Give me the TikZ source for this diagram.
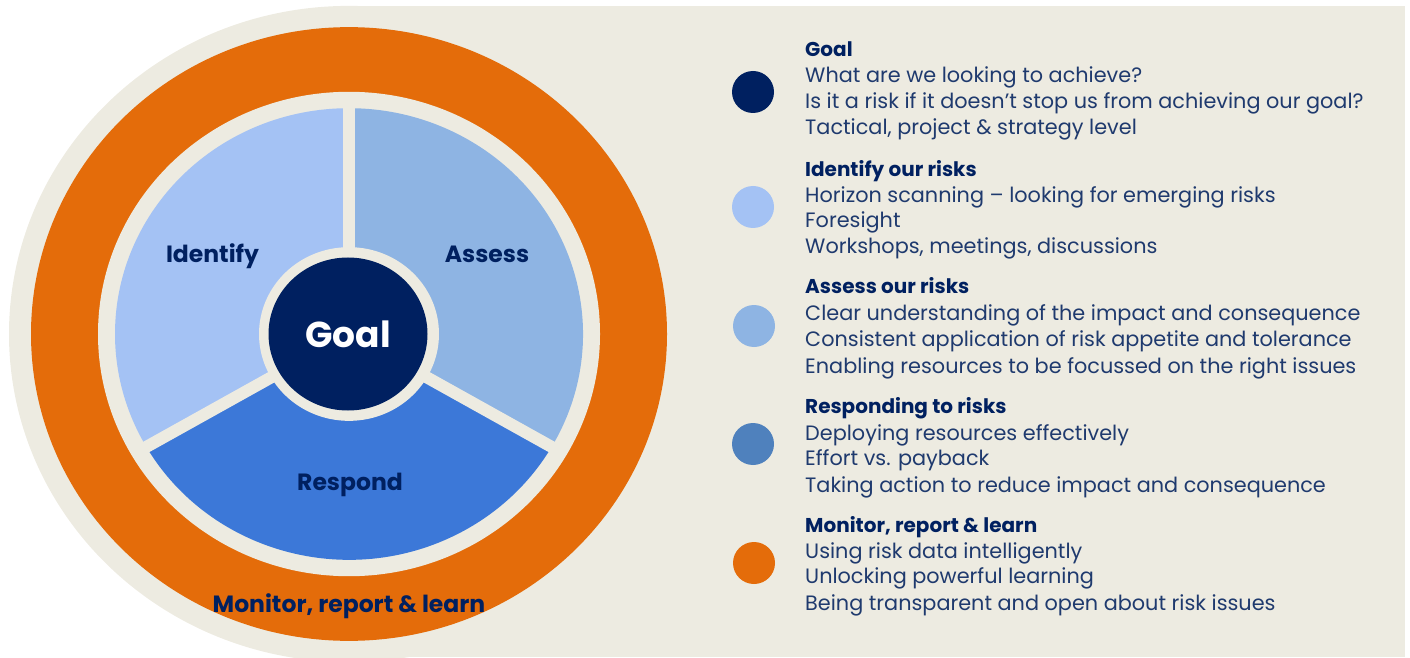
\documentclass[tikz,border=0pt]{standalone}
\usepackage{fontspec}
\setmainfont{Poppins}
\usetikzlibrary{shapes.geometric}
\definecolor{sand}{HTML}{EDEBE1}
\definecolor{ringorange}{HTML}{E46C0A}
\definecolor{navy}{HTML}{002060}
\definecolor{bodytext}{HTML}{1F3A6E}
\definecolor{identifyblue}{HTML}{A4C2F4}
\definecolor{assessblue}{HTML}{8EB4E3}
\definecolor{respondblue}{HTML}{3C78D8}
\definecolor{dotblue}{HTML}{4F81BD}
\begin{document}
\begin{tikzpicture}[x=1pt,y=1pt,
  bodyline/.style={anchor=base west, inner sep=0pt, text=bodytext,
    font=\fontsize{20.8}{24}\selectfont},
  headline/.style={anchor=base west, inner sep=0pt, text=navy,
    font=\fontsize{20}{24}\selectfont\bfseries},
  wheellabel/.style={anchor=base, inner sep=0pt, text=navy,
    font=\fontsize{23.5}{28}\selectfont\bfseries},
  dot/.style={circle, minimum size=42pt, inner sep=0pt}]
\useasboundingbox (0,0) rectangle (1410,657);

% sand panel behind the legend
\fill[sand] (349,0) rectangle (1405,651);

% the wheel (slightly flattened vertically)
\begin{scope}[shift={(349,323)}, yscale=0.965]
  \fill[sand] (0,0) circle (340);
  \fill[ringorange] (0,0) circle (318);
  \fill[sand] (0,0) circle (251);
  \fill[identifyblue] (0,0) -- (90:234) arc (90:210:234) -- cycle;
  \fill[assessblue] (0,0) -- (-30:234) arc (-30:90:234) -- cycle;
  \fill[respondblue] (0,0) -- (210:234) arc (210:330:234) -- cycle;
  \foreach \a in {90,210,330}
    \draw[sand, line width=12pt] (0,0) -- (\a:241);
  \fill[sand] (0,0) circle (90);
\end{scope}

\node[ellipse, fill=navy, minimum width=159pt, minimum height=153pt, inner sep=0pt,
  text=white, font=\fontsize{36}{40}\selectfont\bfseries] (goal) at (348,323) {Goal};

\node[wheellabel] (identify) at (212.5,395) {Identify};
\node[wheellabel] (assess) at (487,395) {Assess};
\node[wheellabel] (respond) at (350,167) {Respond};
\node[wheellabel] (monitor) at (349,45) {Monitor, report \& learn};

% legend dots
\node[dot, fill=navy] (dgoal) at (753,565) {};
\node[dot, fill=identifyblue] (dident) at (753,450) {};
\node[dot, fill=assessblue] (dassess) at (754,331) {};
\node[dot, fill=dotblue] (drespond) at (753,213) {};
\node[dot, fill=ringorange] (dmonitor) at (754,94) {};

% legend text
\node[headline] (h1) at (805,600) {Goal};
\node[bodyline] (t11) at (805,574) {What are we looking to achieve?};
\node[bodyline] (t12) at (805,548) {Is it a risk if it doesn’t stop us from achieving our goal?};
\node[bodyline] (t13) at (805,522) {Tactical, project \& strategy level};

\node[headline] (h2) at (805,480) {Identify our risks};
\node[bodyline] (t21) at (805,454) {Horizon scanning -- looking for emerging risks};
\node[bodyline] (t22) at (805,429) {Foresight};
\node[bodyline] (t23) at (805,403) {Workshops, meetings, discussions};

\node[headline] (h3) at (805,364) {Assess our risks};
\node[bodyline] (t31) at (805,337) {Clear understanding of the impact and consequence};
\node[bodyline] (t32) at (805,311) {Consistent application of risk appetite and tolerance};
\node[bodyline] (t33) at (805,284) {Enabling resources to be focussed on the right issues};

\node[headline] (h4) at (805,244) {Responding to risks};
\node[bodyline] (t41) at (805,217) {Deploying resources effectively};
\node[bodyline] (t42) at (805,192) {Effort vs. payback};
\node[bodyline] (t43) at (805,165) {Taking action to reduce impact and consequence};

\node[headline] (h5) at (805,125) {Monitor, report \& learn};
\node[bodyline] (t51) at (805,99) {Using risk data intelligently};
\node[bodyline] (t52) at (805,74) {Unlocking powerful learning};
\node[bodyline] (t53) at (805,47) {Being transparent and open about risk issues};
\end{tikzpicture}
\end{document}
